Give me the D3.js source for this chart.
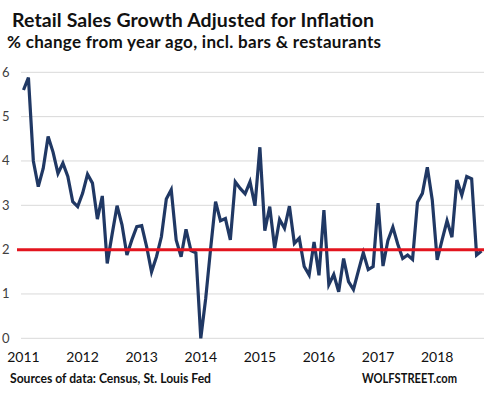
<!DOCTYPE html>
<html>
<head>
<meta charset="utf-8">
<script src="https://cdn.jsdelivr.net/npm/d3@7"></script>
<style>
	body { margin: 0; background: #fff; }
	svg { display: block; font-family: Lato, "Open Sans", sans-serif; }
</style>
</head>
<body>
<svg id="svg_main" width="485" height="399"></svg>
<script>
// monthly values, Jan 2011 .. Oct 2018
var values = [
	5.6, 5.88, 4.0, 3.42, 3.83, 4.55, 4.2, 3.72, 3.95, 3.65, 3.08, 2.97,
	3.27, 3.7, 3.5, 2.69, 3.21, 1.69, 2.35, 2.99, 2.56, 1.88, 2.22, 2.52,
	2.54, 2.07, 1.5, 1.84, 2.29, 3.14, 3.35, 2.22, 1.84, 2.46, 1.98, 1.93,
	0.0, 0.9, 2.03, 3.08, 2.65, 2.7, 2.22, 3.53, 3.38, 3.26, 3.53, 2.99,
	4.31, 2.43, 2.97, 2.03, 2.68, 2.48, 2.98, 2.14, 2.26, 1.62, 1.43, 2.17,
	1.42, 2.89, 1.21, 1.44, 1.05, 1.8, 1.28, 1.1, 1.52, 1.93, 1.55, 1.62,
	3.05, 1.63, 2.21, 2.51, 2.12, 1.8, 1.88, 1.78, 3.07, 3.27, 3.86, 3.12,
	1.77, 2.22, 2.65, 2.28, 3.57, 3.23, 3.65, 3.6, 1.88, 1.97
];
var years = [2011, 2012, 2013, 2014, 2015, 2016, 2017, 2018];
var yTicks = [0, 1, 2, 3, 4, 5, 6];
var refLevel = 2;

var title = "Retail Sales Growth Adjusted for Inflation",
	subtitle = "% change from year ago, incl. bars & restaurants",
	source = "Sources of data: Census, St. Louis Fed",
	brand = "WOLFSTREET.com";

var svg = d3.select("#svg_main");

var x = d3.scaleLinear().domain([0, values.length - 1]).range([23.5, 481.5]),
	y = d3.scaleLinear().domain([0, 6]).range([338.3, 72.3]);

// grid
svg.append("g")
	.attr("class", "grid")
	.selectAll("line")
	.data(yTicks)
	.enter().append("line")
	.attr("x1", 21)
	.attr("x2", 484)
	.attr("y1", d => y(d))
	.attr("y2", d => y(d))
	.attr("stroke", "#d9d9d9")
	.attr("stroke-width", 1);

// y labels
svg.append("g")
	.selectAll("text")
	.data(yTicks)
	.enter().append("text")
	.attr("x", 9.5)
	.attr("y", d => y(d) + 4.5)
	.attr("text-anchor", "end")
	.attr("font-size", "13px")
	.attr("fill", "#404040")
	.text(d => d);

// x labels
svg.append("g")
	.selectAll("text")
	.data(years)
	.enter().append("text")
	.attr("x", d => x((d - 2011) * 12))
	.attr("y", 361.5)
	.attr("text-anchor", "middle")
	.attr("font-size", "14px")
	.attr("fill", "#111")
	.text(d => d);

// series
var line = d3.line()
	.x((d, i) => x(i))
	.y(d => y(d));

svg.append("path")
	.datum(values)
	.attr("d", line)
	.attr("fill", "none")
	.attr("stroke", "#203864")
	.attr("stroke-width", 3.2)
	.attr("stroke-linejoin", "miter");

// 2% line
svg.append("line")
	.attr("x1", 17)
	.attr("x2", 484)
	.attr("y1", y(refLevel))
	.attr("y2", y(refLevel))
	.attr("stroke", "#e3141e")
	.attr("stroke-width", 3);

// titles
svg.append("text")
	.attr("x", 12)
	.attr("y", 26.5)
	.attr("font-size", "19.5px")
	.attr("font-weight", "bold")
	.attr("fill", "#111")
	.attr("textLength", 362)
	.attr("lengthAdjust", "spacing")
	.text(title);
svg.append("text")
	.attr("x", 7)
	.attr("y", 47.5)
	.attr("font-size", "17px")
	.attr("font-weight", "bold")
	.attr("fill", "#111")
	.attr("textLength", 374)
	.attr("lengthAdjust", "spacing")
	.text(subtitle);

// footer
svg.append("text")
	.attr("x", 10)
	.attr("y", 383)
	.attr("font-size", "12.5px")
	.attr("font-weight", "bold")
	.attr("fill", "#111")
	.attr("textLength", 201)
	.attr("lengthAdjust", "spacingAndGlyphs")
	.text(source);
svg.append("text")
	.attr("x", 362)
	.attr("y", 383)
	.attr("font-size", "12.5px")
	.attr("font-weight", "bold")
	.attr("fill", "#111")
	.attr("textLength", 95)
	.attr("lengthAdjust", "spacingAndGlyphs")
	.text(brand);
</script>
</body>
</html>
